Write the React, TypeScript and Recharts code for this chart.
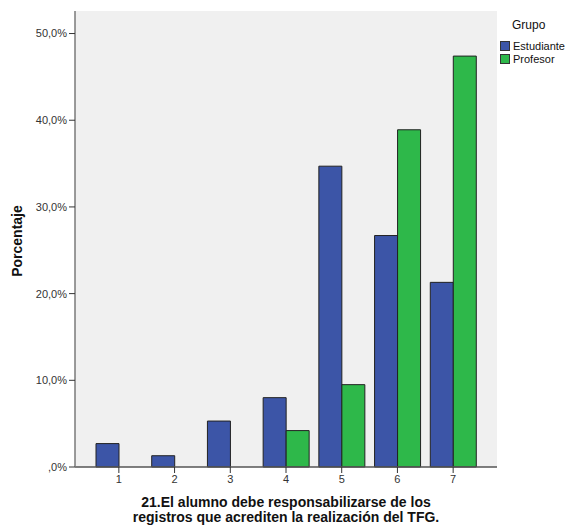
import { Bar, BarChart, CartesianGrid, Legend, XAxis, YAxis } from "recharts";

const categorias = ["1", "2", "3", "4", "5", "6", "7"];
const estudiante = [2.7, 1.3, 5.3, 8.0, 34.7, 26.7, 21.3];
const profesor = [null, null, null, 4.2, 9.5, 38.9, 47.4];
const yTicks = [0, 10, 20, 30, 40, 50];
const tituloX = [
  "21.El alumno debe responsabilizarse de los",
  "registros que acrediten la realización del TFG.",
];

const FONT = "'Liberation Sans', Arial, Helvetica, sans-serif";
const BORDE = "#7a7a7a";

const rows = categorias.map((cat, i) => ({
  cat,
  Estudiante: estudiante[i],
  Profesor: profesor[i],
}));

const formatPct = (v: number) => (v === 0 ? ",0%" : `${v},0%`);

function LeyendaGrupo({ payload }: any) {
  return (
    <div style={{ fontFamily: FONT, color: "#111", whiteSpace: "nowrap" }}>
      <div style={{ fontSize: 12, lineHeight: "14px", paddingLeft: 12, marginBottom: 7 }}>Grupo</div>
      {(payload ?? []).map((item: any) => (
        <div key={item.value} style={{ display: "flex", alignItems: "center", height: 13, fontSize: 11 }}>
          <span
            style={{
              display: "inline-block",
              width: 8,
              height: 8,
              background: item.color,
              border: "1px solid #333",
              marginRight: 3,
            }}
          />
          {item.value}
        </div>
      ))}
    </div>
  );
}

function TituloX({ viewBox }: any) {
  const cx = viewBox.x + viewBox.width / 2;
  return (
    <text x={cx} y={viewBox.y + 40} textAnchor="middle" fontSize={14} fontWeight="bold" fill="#111" fontFamily={FONT}>
      <tspan x={cx} dy={0}>{tituloX[0]}</tspan>
      <tspan x={cx} dy={15}>{tituloX[1]}</tspan>
    </text>
  );
}

function TituloY({ viewBox }: any) {
  const x = viewBox.x + 2;
  const y = viewBox.y + viewBox.height / 2 + 2;
  return (
    <text
      x={x}
      y={y}
      transform={`rotate(-90 ${x} ${y})`}
      textAnchor="middle"
      dominantBaseline="central"
      fontSize={14}
      fontWeight="bold"
      fill="#111"
      fontFamily={FONT}
    >
      Porcentaje
    </text>
  );
}

export default function App() {
  return (
    <div style={{ position: "absolute", top: 0, left: 0, width: 567, height: 526, overflow: "hidden", background: "#fff" }}>
      <BarChart
        width={567}
        height={526}
        data={rows}
        margin={{ top: 11, right: 70, bottom: 29, left: 15 }}
        barGap={0}
        style={{ fontFamily: FONT }}
      >
        <CartesianGrid horizontal={false} vertical={false} fill="#f0f0f0" />
        <XAxis
          dataKey="cat"
          height={30}
          padding={{ left: 16, right: 16 }}
          axisLine={{ stroke: "#555", strokeWidth: 1.5 }}
          tickLine={{ stroke: "#333" }}
          tickSize={6}
          tick={{ fill: "#333", fontSize: 11 }}
          label={<TituloX />}
        />
        <XAxis
          xAxisId="top"
          orientation="top"
          dataKey="cat"
          height={0}
          tick={false}
          tickLine={false}
          axisLine={{ stroke: BORDE, strokeWidth: 1.5 }}
        />
        <YAxis
          width={60}
          domain={[0, 52.6]}
          ticks={yTicks}
          tickFormatter={formatPct}
          axisLine={{ stroke: BORDE, strokeWidth: 1.5 }}
          tickLine={{ stroke: "#333" }}
          tickSize={6}
          tick={{ fill: "#333", fontSize: 11 }}
          label={<TituloY />}
        />
        <YAxis
          yAxisId="right"
          orientation="right"
          width={0}
          domain={[0, 52.6]}
          tick={false}
          tickLine={false}
          axisLine={{ stroke: BORDE, strokeWidth: 1.5 }}
        />
        <Legend
          layout="vertical"
          align="center"
          verticalAlign="middle"
          wrapperStyle={{ top: 18, left: 500, width: 67, overflow: "hidden" }}
          content={<LeyendaGrupo />}
        />
        <Bar dataKey="Estudiante" name="Estudiante" fill="#3c55a7" stroke="#222" strokeWidth={1} barSize={23} isAnimationActive={false} />
        <Bar dataKey="Profesor" name="Profesor" fill="#2eb84a" stroke="#222" strokeWidth={1} barSize={23} isAnimationActive={false} />
      </BarChart>
    </div>
  );
}
